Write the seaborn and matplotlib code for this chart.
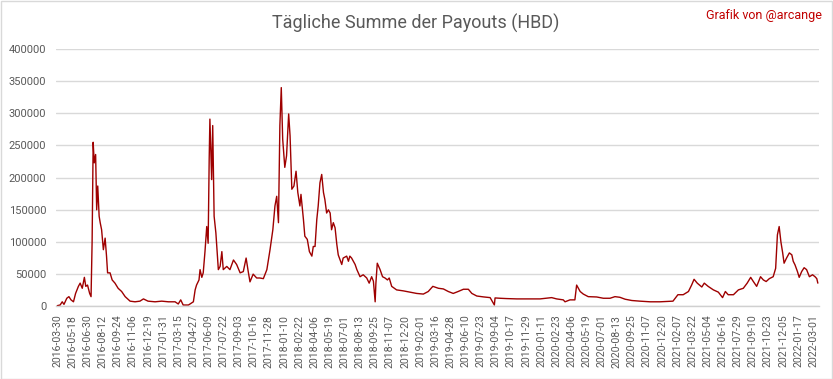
import matplotlib
matplotlib.use("Agg")
import matplotlib.pyplot as plt
import matplotlib.patches as mpatches
from matplotlib.ticker import FuncFormatter
import seaborn as sns
import pandas as pd

# ---- data (category index = day number in the series, value = daily payout sum in HBD) ----
day_index = [
    0, 8, 14, 19, 27, 33, 39, 46, 52, 60, 65, 71, 77, 81, 86, 92, 96, 99, 102, 105,
    109, 112, 115, 119, 122, 126, 131, 136, 140, 143, 150, 156, 164, 173, 183, 193, 207, 221, 235, 245,
    258, 278, 297, 316, 335, 344, 351, 358, 373, 387, 392, 396, 403, 406, 411, 415, 420, 425, 429, 432,
    434, 439, 442, 446, 451, 458, 463, 468, 472, 482, 491, 501, 510, 520, 529, 537, 543, 548, 557, 567,
    576, 586, 596, 605, 613, 619, 624, 629, 633, 637, 641, 647, 652, 658, 662, 667, 673, 679, 684, 690,
    693, 700, 704, 711, 717, 724, 728, 733, 738, 742, 747, 752, 757, 761, 766, 771, 776, 780, 785, 790,
    795, 799, 809, 813, 823, 828, 832, 837, 847, 852, 861, 870, 880, 887, 894, 899, 904, 906, 910, 918,
    925, 932, 939, 944, 951, 965, 984, 1003, 1022, 1041, 1055, 1068, 1084, 1098, 1112, 1126, 1140, 1155, 1169, 1179,
    1193, 1212, 1231, 1243, 1245, 1259, 1278, 1307, 1344, 1373, 1406, 1420, 1439, 1444, 1458, 1472, 1477, 1482, 1487, 1496,
    1510, 1534, 1553, 1572, 1586, 1600, 1615, 1634, 1657, 1686, 1714, 1751, 1765, 1780, 1795, 1804, 1811, 1820, 1833, 1840,
    1851, 1866, 1880, 1892, 1900, 1908, 1923, 1937, 1951, 1962, 1972, 1979, 1989, 2000, 2008, 2016, 2025, 2036, 2043, 2048,
    2053, 2058, 2063, 2067, 2074, 2082, 2089, 2093, 2098, 2105, 2110, 2117, 2124, 2131, 2139, 2148, 2155, 2160, 2163,
]
payouts = [
    1000, 2000, 7000, 3000, 12500, 15000, 10000, 7000, 20000, 31000, 36000, 28000, 45000, 31000, 33000, 20000, 15000, 100000, 255000, 223000,
    236000, 150000, 187000, 140000, 130000, 119000, 88000, 106000, 78000, 52000, 52000, 41000, 36000, 28000, 23000, 15000, 8000, 7000, 8000, 11500,
    8000, 7000, 8000, 7000, 7000, 3600, 10000, 2000, 2000, 7000, 25500, 33000, 41000, 57000, 45000, 52000, 85000, 124000, 98000, 230000,
    291000, 197000, 281000, 140000, 114000, 57000, 62000, 85000, 57000, 62000, 57000, 72000, 65000, 52000, 54000, 75000, 54000, 38000, 50000, 44000,
    44000, 43000, 57000, 88000, 119000, 156000, 171000, 130000, 281000, 340000, 260000, 216000, 234000, 299000, 265000, 182000, 187000, 210000, 177000, 156000,
    174000, 135000, 109000, 104000, 85000, 78000, 93000, 93000, 135000, 156000, 192000, 205000, 177000, 166000, 145000, 150000, 145000, 119000, 130000, 122000,
    96000, 80000, 65000, 75000, 78000, 70000, 78000, 75000, 65000, 57000, 46000, 49000, 44000, 36000, 46000, 39000, 7000, 35000, 67000, 57000,
    46000, 44000, 41000, 44000, 31000, 25500, 24000, 22000, 20000, 19000, 23000, 31000, 28000, 27000, 23000, 20000, 23000, 26500, 26500, 20000,
    16000, 14600, 13500, 2000, 13000, 12500, 12000, 11500, 11500, 11500, 13500, 11500, 10000, 7000, 10000, 10000, 33000, 28000, 23000, 19000,
    15000, 14500, 12500, 12500, 15000, 14000, 11000, 9000, 8000, 7000, 7000, 8000, 18000, 18000, 23000, 33000, 42000, 36000, 30000, 36000,
    31000, 25500, 22000, 13500, 23000, 18000, 18000, 25500, 28000, 36000, 45000, 39000, 31000, 46000, 41000, 38500, 43000, 46000, 59000, 111000,
    124000, 100000, 83000, 67000, 75000, 83000, 80000, 70000, 64500, 54000, 45000, 54000, 60000, 57000, 46000, 49000, 46000, 43000, 36000,
]
tick_labels = [
    "2016-03-30", "2016-05-18", "2016-06-30", "2016-08-12", "2016-09-24", "2016-11-06", "2016-12-19",
    "2017-01-31", "2017-03-15", "2017-04-27", "2017-06-09", "2017-07-22", "2017-09-03", "2017-10-16", "2017-11-28",
    "2018-01-10", "2018-02-22", "2018-04-06", "2018-05-19", "2018-07-01", "2018-08-13", "2018-09-25", "2018-11-07", "2018-12-20",
    "2019-02-01", "2019-03-16", "2019-04-28", "2019-06-10", "2019-07-23", "2019-09-04", "2019-10-17", "2019-11-29",
    "2020-01-11", "2020-02-23", "2020-04-06", "2020-05-19", "2020-07-01", "2020-08-13", "2020-09-25", "2020-11-07", "2020-12-20",
    "2021-02-07", "2021-03-22", "2021-05-04", "2021-06-16", "2021-07-29", "2021-09-10", "2021-10-23", "2021-12-05",
    "2022-01-17", "2022-03-01",
]
tick_step = 43
title = "Tägliche Summe der Payouts (HBD)"
credit = "Grafik von @arcange"

df = pd.DataFrame({"day": day_index, "payout": payouts})

sns.set_theme(style="white")
plt.rcParams["font.family"] = ["Roboto", "DejaVu Sans"]

W, H = 833, 379
fig = plt.figure(figsize=(W / 100, H / 100), dpi=100)
ax = fig.add_axes([56 / W, 1 - 306.3 / H, (819 - 56) / W, (306.3 - 49) / H])

sns.lineplot(data=df, x="day", y="payout", ax=ax, color="#9e0000", linewidth=1.0)

ax.set_ylim(0, 400000)
ax.set_xlim(-3.7, 2166.3)
ax.set_yticks(range(0, 400001, 50000))
ax.yaxis.set_major_formatter(FuncFormatter(lambda v, p: f"{int(v)}"))
ax.set_xticks([i * tick_step for i in range(len(tick_labels))])
ax.set_xticklabels(tick_labels, rotation=90)
ax.tick_params(axis="both", length=0, colors="#595959")
ax.tick_params(axis="x", labelsize=7.6, pad=6)
ax.tick_params(axis="y", labelsize=8, pad=7)
ax.grid(axis="y", color="#d9d9d9", linewidth=1)
ax.set_axisbelow(True)
for s in ["left", "right", "top"]:
    ax.spines[s].set_visible(False)
ax.spines["bottom"].set_color("#d0d0d0")
ax.spines["bottom"].set_linewidth(1)
ax.set_xlabel("")
ax.set_ylabel("")

fig.text(0.499, 1 - 23 / H, title, ha="center", va="center", fontsize=13, color="#595959")
fig.text(822 / W, 1 - 16 / H, credit, ha="right", va="center", fontsize=9, color="#c00000")

fig.patches.append(mpatches.Rectangle((0.5 / W, 0.5 / H), 1 - 1.5 / W, 1 - 1.5 / H, transform=fig.transFigure,
                                      fill=False, edgecolor="#d9d9d9", linewidth=1))

fig.savefig("out.png", dpi=100)
